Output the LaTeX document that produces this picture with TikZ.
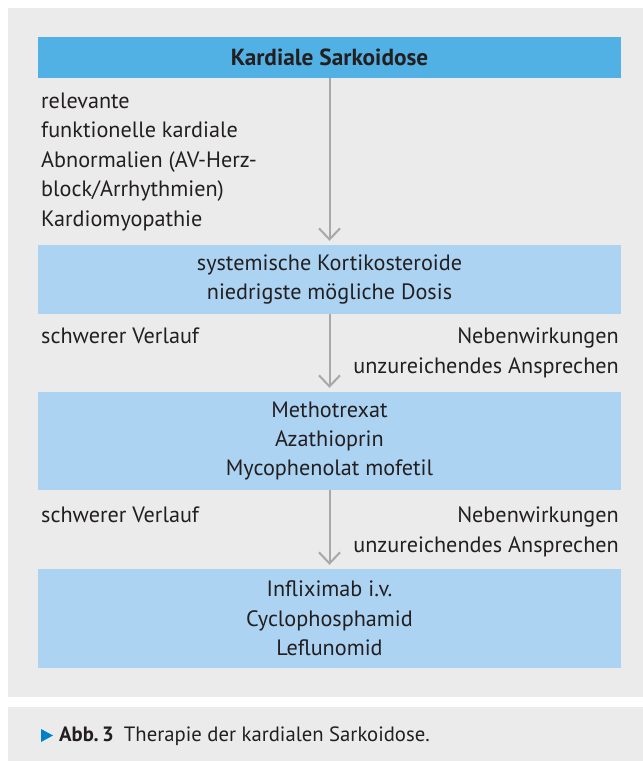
\documentclass[tikz,border=0pt]{standalone}
\usepackage{fontspec}
\setmainfont{PT Sans}
\usetikzlibrary{arrows.meta}
\definecolor{panelgray}{RGB}{235,235,235}
\definecolor{headblue}{RGB}{82,177,228}
\definecolor{boxblue}{RGB}{172,211,242}
\definecolor{arrowgray}{RGB}{168,168,168}
\definecolor{txt}{RGB}{35,31,32}
\definecolor{capblue}{RGB}{0,128,201}
\tikzset{
  every node/.style={font=\fontsize{22.2}{29.4}\selectfont, text=txt, inner sep=0pt},
  flowbox/.style={fill=boxblue, minimum width=583pt, align=center},
  headbox/.style={fill=headblue, minimum width=583pt, minimum height=41pt, font=\fontsize{23.3}{29.4}\selectfont\bfseries},
  sidel/.style={anchor=base west, align=left},
  sider/.style={anchor=base east, align=right},
  flowarrow/.style={draw=arrowgray, line width=2pt, -{Straight Barb[length=11pt,width=21pt,line width=2pt]}, shorten >=4pt},
}
\begin{document}
\begin{tikzpicture}[x=1pt,y=-1pt]
\useasboundingbox (0,0) rectangle (643,761);
\fill[white] (0,0) rectangle (643,761);
\fill[panelgray] (8,8) rectangle (643,697);
\fill[panelgray] (8,707) rectangle (643,761);

\node[headbox] (b1) at (329.5,57.5) {Kardiale Sarkoidose};
\node[flowbox, minimum height=69pt] (b2) at (329.5,279.5) {systemische Kortikosteroide\\niedrigste mögliche Dosis};
\node[flowbox, minimum height=98pt] (b3) at (329.5,441) {Methotrexat\\Azathioprin\\Mycophenolat mofetil};
\node[flowbox, minimum height=99pt] (b4) at (329.5,618.5) {Infliximab i.v.\\Cyclophosphamid\\Leflunomid};

\draw[flowarrow] (b1) -- (b2);
\draw[flowarrow] (b2) -- (b3);
\draw[flowarrow] (b3) -- (b4);

\node[sidel, font=\fontsize{22.2}{29.5}\selectfont] (l1) at (41,226) {relevante\\funktionelle kardiale\\Abnormalien (AV-Herz-\\block/Arrhythmien)\\Kardiomyopathie};
\node[sidel] (l2) at (41,343) {schwerer Verlauf};
\node[sider] (r2) at (619,373) {Nebenwirkungen\\unzureichendes Ansprechen};
\node[sidel] (l3) at (41,522) {schwerer Verlauf};
\node[sider] (r3) at (619,552) {Nebenwirkungen\\unzureichendes Ansprechen};

\fill[capblue] (41,729) -- (53,735.5) -- (41,742) -- cycle;
\node[anchor=base west, font=\fontsize{20.7}{24}\selectfont] (cap) at (59,741)
  {\textbf{Abb.\,3}\hspace{10pt}Therapie der kardialen Sarkoidose.};
\end{tikzpicture}
\end{document}
